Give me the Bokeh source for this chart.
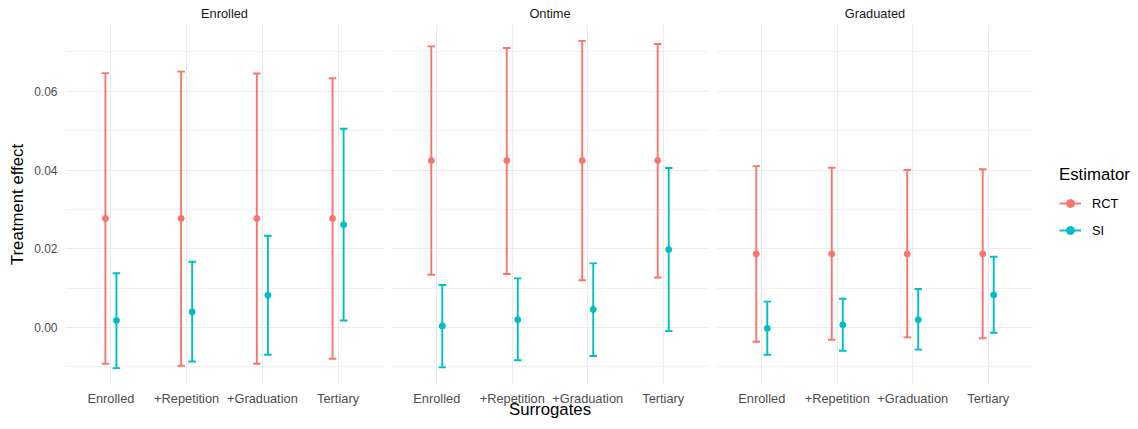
from bokeh.plotting import figure
from bokeh.models import (ColumnDataSource, FactorRange, Range1d, FixedTicker,
                          Legend, LegendItem)
from bokeh.transform import dodge
from bokeh.layouts import row
from bokeh.embed import file_html
from bokeh.resources import INLINE

# ---------------- data ----------------
surrogates = ["Enrolled", "+Repetition", "+Graduation", "Tertiary"]
outcomes = ["Enrolled", "Ontime", "Graduated"]

# Outcome: Enrolled
enr_rct_est = [0.0277, 0.0277, 0.0277, 0.0277]
enr_rct_lo = [-0.0092, -0.0097, -0.0092, -0.0079]
enr_rct_hi = [0.0646, 0.0650, 0.0645, 0.0633]
enr_si_est = [0.0018, 0.0040, 0.0082, 0.0261]
enr_si_lo = [-0.0103, -0.0086, -0.0069, 0.0018]
enr_si_hi = [0.0138, 0.0167, 0.0233, 0.0505]

# Outcome: Ontime
ont_rct_est = [0.0424, 0.0424, 0.0424, 0.0424]
ont_rct_lo = [0.0134, 0.0136, 0.0120, 0.0127]
ont_rct_hi = [0.0714, 0.0710, 0.0728, 0.0720]
ont_si_est = [0.0004, 0.0020, 0.0046, 0.0198]
ont_si_lo = [-0.0101, -0.0083, -0.0072, -0.0009]
ont_si_hi = [0.0108, 0.0125, 0.0163, 0.0405]

# Outcome: Graduated
grd_rct_est = [0.0187, 0.0187, 0.0187, 0.0187]
grd_rct_lo = [-0.0036, -0.0031, -0.0025, -0.0027]
grd_rct_hi = [0.0410, 0.0406, 0.0400, 0.0402]
grd_si_est = [-0.0002, 0.0007, 0.0020, 0.0083]
grd_si_lo = [-0.0069, -0.0059, -0.0056, -0.0013]
grd_si_hi = [0.0066, 0.0073, 0.0098, 0.0180]

y_major = [0.00, 0.02, 0.04, 0.06]
y_minor = [-0.01, 0.01, 0.03, 0.05, 0.07]
y_labels = {0.0: "0.00", 0.02: "0.02", 0.04: "0.04", 0.06: "0.06"}

estimators = ["RCT", "SI"]
colors = {"RCT": "#F8766D", "SI": "#00BFC4"}

panel_data = {
    "Enrolled": {"RCT": (enr_rct_est, enr_rct_lo, enr_rct_hi),
                 "SI": (enr_si_est, enr_si_lo, enr_si_hi)},
    "Ontime": {"RCT": (ont_rct_est, ont_rct_lo, ont_rct_hi),
               "SI": (ont_si_est, ont_si_lo, ont_si_hi)},
    "Graduated": {"RCT": (grd_rct_est, grd_rct_lo, grd_rct_hi),
                  "SI": (grd_si_est, grd_si_lo, grd_si_hi)},
}

# y limits with ggplot-like 5% expansion
all_vals = []
for o in outcomes:
    for e in estimators:
        for arr in panel_data[o][e]:
            all_vals += arr
ymin, ymax = min(all_vals), max(all_vals)
pad = (ymax - ymin) * 0.05

FONT = "Liberation Sans"
SMALL = "12.8px"
BIG = "16.8px"
offsets = {"RCT": -0.073, "SI": 0.073}
cap_half = 0.05

figs = []
legend_renderers = {}
for i, o in enumerate(outcomes):
    left = 65 if i == 0 else 4
    right = 97 if i == 2 else 4
    fw = 318 if i == 0 else 317
    p = figure(
        frame_width=fw, frame_height=360,
        x_range=FactorRange(factors=surrogates, range_padding=0.05,
                            range_padding_units="percent"),
        y_range=Range1d(ymin - pad, ymax + pad),
        output_backend="svg", toolbar_location=None,
        y_axis_location="left" if i == 0 else None,
        min_border_left=left, min_border_right=right,
        min_border_top=23, min_border_bottom=38,
        title=o,
    )
    p.outline_line_color = None
    p.background_fill_color = "white"
    p.border_fill_color = "white"

    p.title.align = "center"
    p.title.text_font = FONT
    p.title.text_font_size = SMALL
    p.title.text_font_style = "normal"
    p.title.text_color = "#1A1A1A"
    p.title.standoff = 7
    p.title.offset = 0

    # grids
    p.xgrid.grid_line_color = "#EBEBEB"
    p.xgrid.grid_line_width = 1.1
    yg = p.ygrid[0]
    yg.ticker = FixedTicker(ticks=y_major, minor_ticks=y_minor)
    yg.grid_line_color = "#EBEBEB"
    yg.grid_line_width = 1.1
    yg.minor_grid_line_color = "#EEEEEE"
    yg.minor_grid_line_width = 0.8

    # x axis
    xa = p.xaxis[0]
    xa.axis_line_color = None
    xa.major_tick_line_color = None
    xa.minor_tick_line_color = None
    xa.major_tick_out = 0
    xa.major_label_text_font = FONT
    xa.major_label_text_font_size = SMALL
    xa.major_label_text_color = "#4D4D4D"
    xa.major_label_standoff = 6
    xa.axis_label_text_font = FONT
    xa.axis_label_text_font_size = BIG
    xa.axis_label_text_font_style = "normal"
    xa.axis_label_text_color = "black"
    xa.axis_label_standoff = -9
    xa.axis_label = "Surrogates" if i == 1 else " "

    if i == 0:
        ya = p.yaxis[0]
        ya.ticker = FixedTicker(ticks=y_major, minor_ticks=y_minor)
        ya.major_label_overrides = y_labels
        ya.axis_line_color = None
        ya.major_tick_line_color = None
        ya.minor_tick_line_color = None
        ya.major_tick_out = 0
        ya.minor_tick_out = 0
        ya.major_label_text_font = FONT
        ya.major_label_text_font_size = "12px"
        ya.major_label_text_color = "#4D4D4D"
        ya.major_label_standoff = 8
        ya.axis_label = "Treatment effect"
        ya.axis_label_text_font = FONT
        ya.axis_label_text_font_size = BIG
        ya.axis_label_text_font_style = "normal"
        ya.axis_label_text_color = "black"
        ya.axis_label_standoff = 4

    for e in estimators:
        est, lo, hi = panel_data[o][e]
        src = ColumnDataSource(dict(cat=surrogates, est=est, lo=lo, hi=hi))
        off = offsets[e]
        c = colors[e]
        seg = p.segment(x0=dodge("cat", off, range=p.x_range), y0="lo",
                        x1=dodge("cat", off, range=p.x_range), y1="hi",
                        source=src, line_color=c, line_width=1.9)
        p.segment(x0=dodge("cat", off - cap_half, range=p.x_range), y0="hi",
                  x1=dodge("cat", off + cap_half, range=p.x_range), y1="hi",
                  source=src, line_color=c, line_width=1.9)
        p.segment(x0=dodge("cat", off - cap_half, range=p.x_range), y0="lo",
                  x1=dodge("cat", off + cap_half, range=p.x_range), y1="lo",
                  source=src, line_color=c, line_width=1.9)
        pt = p.scatter(x=dodge("cat", off, range=p.x_range), y="est",
                       source=src, size=6, fill_color=c, line_color=c)
        if i == 2:
            legend_renderers[e] = [seg, pt]
    figs.append(p)

p3 = figs[2]
legend = Legend(
    items=[LegendItem(label=e, renderers=legend_renderers[e]) for e in estimators],
    title="Estimator",
    location=(26, 144),
)
legend.title_text_font = FONT
legend.title_text_font_size = BIG
legend.title_text_font_style = "normal"
legend.title_text_color = "black"
legend.title_standoff = 8
legend.label_text_font = FONT
legend.label_text_font_size = SMALL
legend.label_text_color = "black"
legend.label_standoff = 11
legend.glyph_width = 22
legend.glyph_height = 20
legend.label_height = 20
legend.spacing = 7
legend.padding = 0
legend.margin = 0
legend.border_line_color = None
legend.background_fill_alpha = 0
p3.add_layout(legend, "right")

layout = row(*figs, spacing=0)
open("out.html", "w").write(file_html(layout, INLINE))
